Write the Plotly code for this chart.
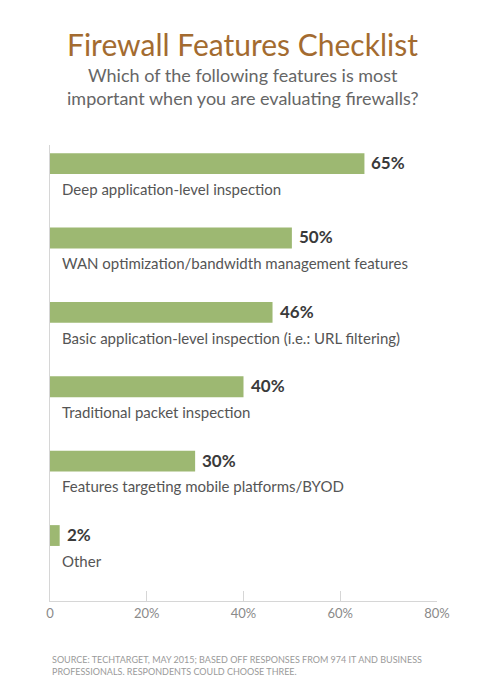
import plotly.graph_objects as go

categories = [
    "Deep application-level inspection",
    "WAN optimization/bandwidth management features",
    "Basic application-level inspection (i.e.: URL filtering)",
    "Traditional packet inspection",
    "Features targeting mobile platforms/BYOD",
    "Other",
]
values = [65, 50, 46, 40, 30, 2]
tick_vals = [0, 20, 40, 60, 80]
tick_text = ["0", "20%", "40%", "60%", "80%"]

FONT = "Lato"
positions = list(range(len(categories)))

fig = go.Figure()
fig.add_trace(go.Bar(
    x=values, y=positions, orientation="h",
    width=0.28, marker=dict(color="#9db872", line=dict(width=0)),
    hoverinfo="skip",
))

annotations = []
for i, (c, v) in enumerate(zip(categories, values)):
    annotations.append(dict(
        x=0, y=i + 0.34, xref="x", yref="y", text=c, showarrow=False,
        xanchor="left", yanchor="middle", xshift=10,
        font=dict(family=FONT, size=15, color="#555555"),
    ))
    annotations.append(dict(
        x=v, y=i, xref="x", yref="y", text=f"{v}%", showarrow=False,
        xanchor="left", yanchor="middle", xshift=5, yshift=1,
        font=dict(family=FONT, size=17, color="#3a3a3a", weight="bold"),
    ))

def py(p):
    return (601 - p) / 456.0

annotations += [
    dict(x=0.5, y=py(44), xref="paper", yref="paper", xanchor="center", yanchor="middle",
         text="Firewall Features Checklist", showarrow=False, xshift=-1,
         font=dict(family=FONT, size=30, color="#a36b30")),
    dict(x=0.5, y=py(87), xref="paper", yref="paper", xanchor="center", yanchor="middle",
         text="Which of the following features is most<br>important when you are evaluating firewalls?",
         showarrow=False, xshift=-1,
         font=dict(family=FONT, size=18, color="#666666")),
    dict(x=0, y=py(665), xref="paper", yref="paper", xanchor="left", yanchor="middle", align="left",
         text="SOURCE: TECHTARGET, MAY 2015; BASED OFF RESPONSES FROM 974 IT AND BUSINESS<br>PROFESSIONALS. RESPONDENTS COULD CHOOSE THREE.",
         showarrow=False, xshift=0,
         font=dict(family=FONT, size=9, color="#9a9a9a")),
]

# The page has an 8px body margin, so margins are reduced by 8px to match pixel positions.
fig.update_layout(
    width=475, height=691,
    margin=dict(l=42, r=46, t=137, b=98),
    paper_bgcolor="white", plot_bgcolor="white",
    showlegend=False,
    annotations=annotations,
    xaxis=dict(range=[0, 80], tickvals=tick_vals, ticktext=tick_text,
               showgrid=False, zeroline=False, showline=True, linecolor="#d6d6d6", linewidth=1,
               ticks="inside", ticklen=10, tickcolor="#d6d6d6",
               tickfont=dict(family=FONT, size=13, color="#8a8a8a")),
    yaxis=dict(range=[5.88, -0.25], showgrid=False, zeroline=False, showline=True,
               linecolor="#d6d6d6", linewidth=1, showticklabels=False, ticks=""),
)

fig.write_html("out.html")
